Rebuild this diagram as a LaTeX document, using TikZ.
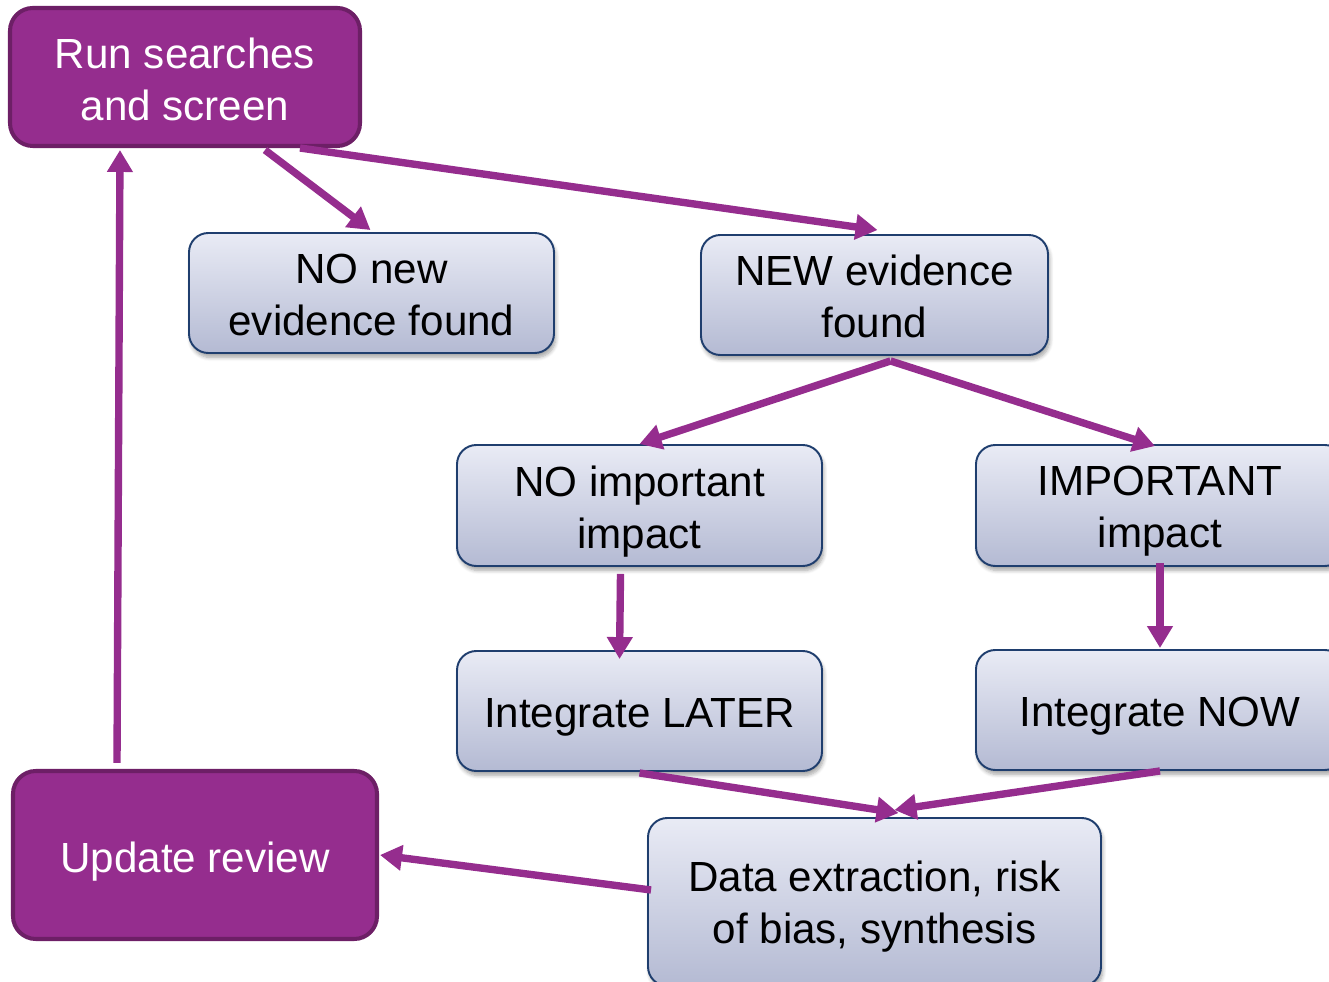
\documentclass[tikz,border=0pt]{standalone}
\usepackage{fontspec}
\setmainfont{Liberation Sans}
\usetikzlibrary{arrows.meta,calc,shadows.blur}
\definecolor{purp}{HTML}{952D8E}
\definecolor{purpdark}{HTML}{6D1F66}
\definecolor{boxtop}{HTML}{E9EBF5}
\definecolor{boxbot}{HTML}{B4BAD3}
\definecolor{navy}{HTML}{1F3E6E}
\tikzset{
  purplebox/.style={draw=purpdark, line width=2.3pt, fill=purp, rounded corners=13pt, inner sep=0pt},
  bluebox/.style={draw=navy, line width=1.1pt, top color=boxtop, bottom color=boxbot,
    rounded corners=11pt, inner sep=0pt,
    blur shadow={shadow xshift=1pt, shadow yshift=-2.5pt, shadow opacity=35, shadow blur steps=6}},
  whitetext/.style={text=white, align=center, inner sep=0pt, font=\fontsize{24}{29.6}\selectfont},
  blacktext/.style={text=black, align=center, inner sep=0pt, font=\fontsize{24}{29.6}\selectfont},
  flow/.style={draw=purp, line width=4.2pt, -{Triangle[length=12.5pt,width=14pt]}}
}
\begin{document}
\begin{tikzpicture}[x=0.02cm,y=-0.02cm]
\useasboundingbox (0,0) rectangle (1329,982);
\clip (0,0) rectangle (1329,982);
\node[purplebox, minimum width=350*0.02cm, minimum height=138*0.02cm] (run) at (185,77) {};
\node[bluebox, minimum width=365*0.02cm, minimum height=120*0.02cm] (nonew) at (371.5,293) {};
\node[bluebox, minimum width=347*0.02cm, minimum height=120*0.02cm] (new) at (874.5,295) {};
\node[bluebox, minimum width=365*0.02cm, minimum height=121*0.02cm] (noimp) at (639.5,505.5) {};
\node[bluebox, minimum width=368*0.02cm, minimum height=121*0.02cm] (imp) at (1160,505.5) {};
\node[bluebox, minimum width=365*0.02cm, minimum height=120*0.02cm] (later) at (639.5,711) {};
\node[bluebox, minimum width=368*0.02cm, minimum height=120*0.02cm] (now) at (1160,710) {};
\node[purplebox, minimum width=364*0.02cm, minimum height=168*0.02cm] (update) at (195,855) {};
\node[bluebox, minimum width=453*0.02cm, minimum height=168*0.02cm] (data) at (874.5,902) {};

\node[whitetext] (runT) at ($(run)+(0,2)$) {Run searches\\and screen};
\node[blacktext] (nonewT) at ($(nonew)+(0,1.5)$) {NO new\\evidence found};
\node[blacktext] (newT) at ($(new)+(0,1)$) {NEW evidence\\found};
\node[blacktext] (noimpT) at ($(noimp)+(0,6)$) {NO important\\impact};
\node[blacktext] (impT) at ($(imp)+(0,6)$) {IMPORTANT\\impact};
\node[blacktext] (laterT) at ($(later)+(0,6)$) {Integrate LATER};
\node[blacktext] (nowT) at ($(now)+(0,6)$) {Integrate NOW};
\node[whitetext] (updateT) at ($(update)+(0,7)$) {Update review};
\node[blacktext] (dataT) at ($(data)+(0,5)$) {Data extraction, risk\\of bias, synthesis};

\draw[flow] ($(run.south)+(80,2)$) -- ($(nonew.north)+(-1,-2)$);
\draw[flow] ($(run.south)+(115,0)$) -- ($(new.north)+(3,-4)$);
\draw[flow] ($(new.south)+(16,5)$) -- ($(noimp.north)+(0,0)$);
\draw[flow] ($(new.south)+(16,5)$) -- ($(imp.north)+(-5,2)$);
\draw[flow] ($(noimp.south)+(-19,7)$) -- ($(later.north)+(-20,9)$);
\draw[flow] ($(imp.south)+(0,-4)$) -- ($(now.north)+(0,-1)$);
\draw[flow] ($(later.south)+(0,1)$) -- ($(data.north)+(24,-4)$);
\draw[flow] ($(now.south)+(0,0)$) -- ($(data.north)+(20,-7)$);
\draw[flow] ($(data.west)+(4,-12)$) -- ($(update.east)+(1,0)$);
\draw[flow] ($(update.north)+(-78,-6)$) -- ($(run.south)+(-65,2)$);
\end{tikzpicture}
\end{document}
